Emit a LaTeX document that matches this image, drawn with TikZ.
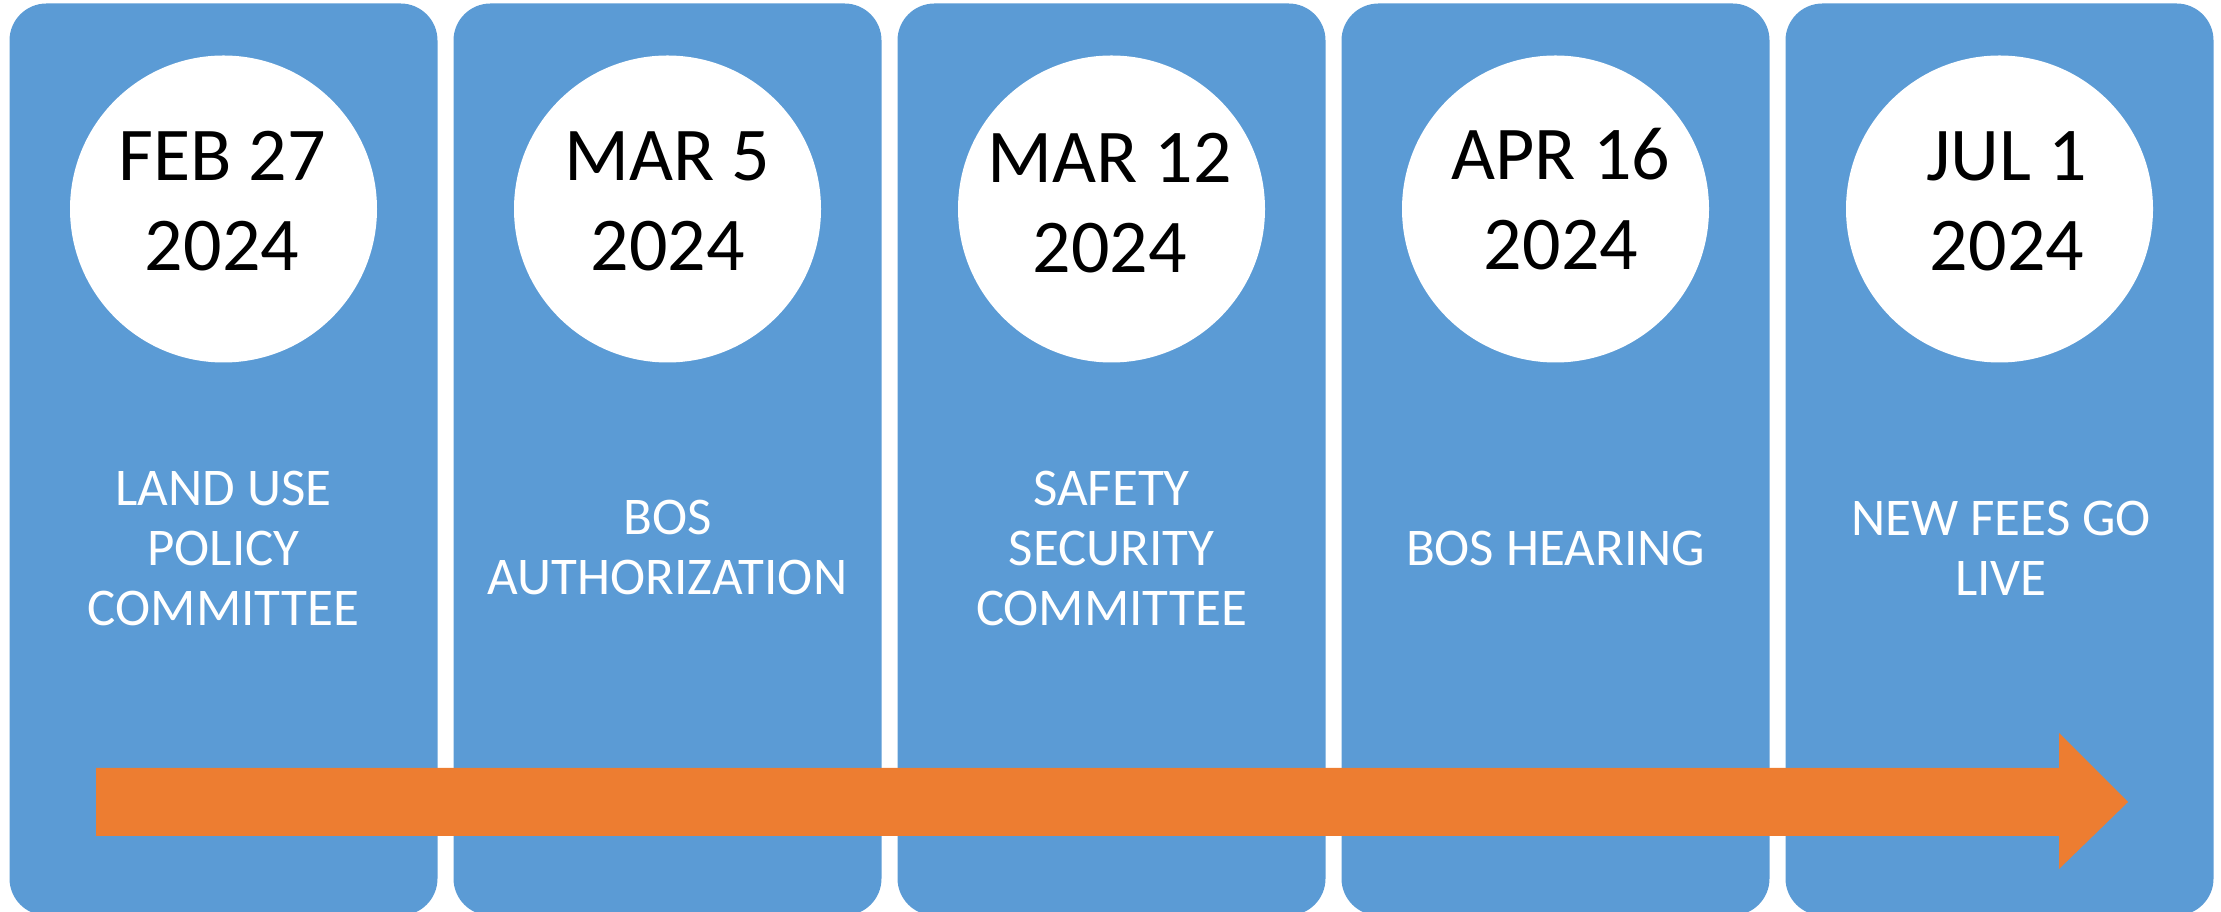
\documentclass[tikz,border=0pt]{standalone}
\usepackage{fontspec}
\setmainfont{Carlito}
\definecolor{panelblue}{HTML}{5B9BD5}
\definecolor{arroworange}{HTML}{ED7D31}

\begin{document}
\begin{tikzpicture}[x=1pt,y=1pt,
    panel/.style={fill=panelblue, rounded corners=37pt, minimum width=428pt, minimum height=912pt, inner sep=0pt},
    datecircle/.style={circle, fill=white, minimum size=307pt, inner sep=0pt},
    datetext/.style={align=center, inner sep=0pt, font=\fontsize{76}{90}\selectfont},
    eventtext/.style={align=center, inner sep=0pt, text=white, font=\fontsize{53}{60}\selectfont}]
    \useasboundingbox (0,0) rectangle (2221,912);
    % panels
    \node[panel] (p1) at (223.5,452.5) {};
    \node[panel] (p2) at (667.5,452.5) {};
    \node[panel] (p3) at (1111.5,452.5) {};
    \node[panel] (p4) at (1555.5,452.5) {};
    \node[panel] (p5) at (1999.5,452.5) {};
    % dates
    \node[datecircle] (c1) at (223.5,703) {};
    \node[datecircle] (c2) at (667.5,703) {};
    \node[datecircle] (c3) at (1111.5,703) {};
    \node[datecircle] (c4) at (1555.5,703) {};
    \node[datecircle] (c5) at (1999.5,703) {};
    \node[datetext] (d1) at (222,711) {FEB 27\\2024};
    \node[datetext] (d2) at (667.5,711) {MAR 5\\2024};
    \node[datetext] (d3) at (1109.5,708.5) {MAR 12\\2024};
    \node[datetext] (d4) at (1561,713) {APR 16\\2024};
    \node[datetext] (d5) at (2007,711) {JUL 1\\2024};
    % events
    \node[eventtext] (e1) at (223.5,364) {LAND USE\\POLICY\\COMMITTEE};
    \node[eventtext] (e2) at (667.5,364) {BOS\\AUTHORIZATION};
    \node[eventtext] (e3) at (1111.5,364) {SAFETY\\SECURITY\\COMMITTEE};
    \node[eventtext] (e4) at (1555.5,364) {BOS HEARING};
    \node[eventtext] (e5) at (2001,364) {NEW FEES GO\\LIVE};
    % timeline arrow
    \fill[arroworange] (96,144) -- (2059,144) -- (2059,179) -- (2128,110)
        -- (2059,43) -- (2059,76) -- (96,76) -- cycle;
\end{tikzpicture}
\end{document}
